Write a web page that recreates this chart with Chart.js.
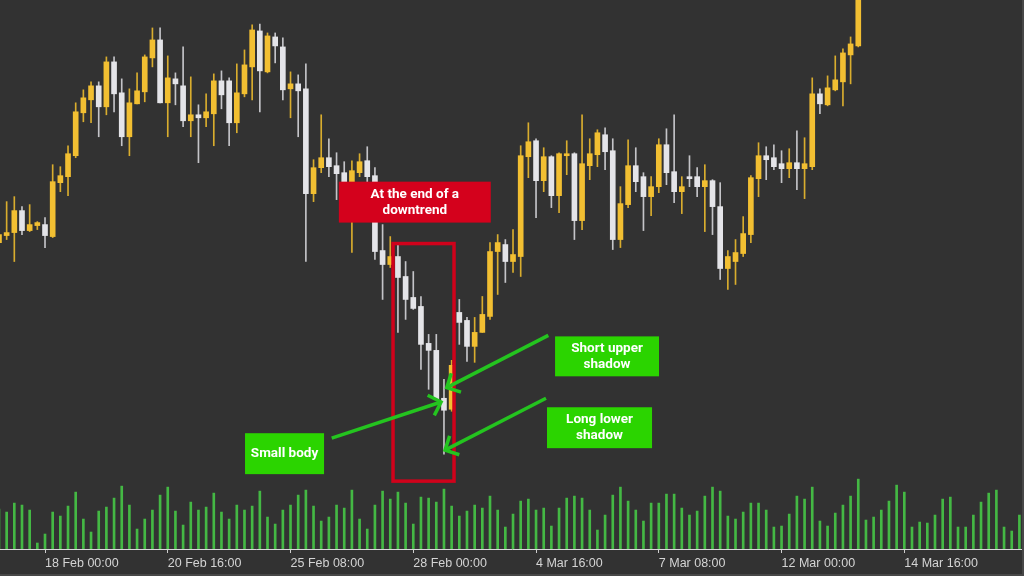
<!DOCTYPE html>
<html><head><meta charset="utf-8">
<script src="https://cdn.jsdelivr.net/npm/chart.js@4.4.1/dist/chart.umd.min.js"></script>
<style>html,body{margin:0;padding:0;background:#323232;overflow:hidden}canvas{display:block}</style>
</head><body>
<canvas id="c" width="1024" height="576"></canvas>
<script>
// ---- data (4H candles) ----
const openP  = [1.307,1.314,1.317,1.339,1.319,1.324,1.325,1.313,1.367,1.373,1.394,1.437,1.450,1.464,1.443,1.488,1.457,1.413,1.446,1.458,
1.492,1.510,1.447,1.471,1.464,1.429,1.435,1.432,1.436,1.469,1.469,1.427,1.456,1.483,1.519,1.478,1.513,1.503,1.461,1.466,
1.461,1.356,1.382,1.392,1.384,1.377,1.368,1.377,1.389,1.374,1.299,1.285,1.293,1.273,1.252,1.243,1.206,1.199,1.151,1.140,
1.237,1.229,1.203,1.217,1.233,1.298,1.305,1.288,1.293,1.393,1.409,1.369,1.393,1.354,1.394,1.396,1.329,1.384,1.395,1.415,
1.399,1.310,1.345,1.384,1.373,1.353,1.363,1.405,1.378,1.358,1.373,1.373,1.363,1.369,1.343,1.281,1.288,1.296,1.315,1.371,
1.394,1.392,1.386,1.381,1.387,1.381,1.383,1.456,1.445,1.460,1.468,1.495,1.504];
const highP  = [1.320,1.348,1.353,1.343,1.345,1.328,1.332,1.385,1.383,1.404,1.447,1.460,1.468,1.468,1.493,1.493,1.471,1.461,1.477,1.495,
1.522,1.522,1.494,1.477,1.503,1.473,1.445,1.456,1.476,1.479,1.472,1.486,1.500,1.525,1.526,1.517,1.517,1.512,1.478,1.475,
1.486,1.390,1.435,1.411,1.397,1.388,1.389,1.396,1.403,1.382,1.325,1.313,1.305,1.288,1.278,1.253,1.215,1.215,1.170,1.189,
1.250,1.232,1.232,1.253,1.307,1.315,1.310,1.320,1.404,1.427,1.411,1.402,1.394,1.397,1.409,1.397,1.435,1.411,1.420,1.422,
1.411,1.363,1.410,1.402,1.377,1.373,1.411,1.421,1.435,1.373,1.394,1.382,1.385,1.370,1.367,1.299,1.310,1.333,1.374,1.407,
1.403,1.405,1.399,1.401,1.419,1.412,1.472,1.461,1.474,1.494,1.501,1.513,1.580];
const lowP   = [1.303,1.310,1.288,1.315,1.318,1.320,1.302,1.312,1.358,1.354,1.392,1.428,1.427,1.413,1.435,1.438,1.404,1.394,1.446,1.448,
1.483,1.447,1.413,1.445,1.423,1.413,1.387,1.423,1.404,1.441,1.404,1.417,1.453,1.450,1.438,1.477,1.487,1.450,1.432,1.413,
1.288,1.348,1.377,1.373,1.350,1.365,1.297,1.373,1.368,1.290,1.250,1.282,1.217,1.230,1.240,1.180,1.160,1.150,1.095,1.138,
1.205,1.188,1.187,1.217,1.230,1.255,1.267,1.277,1.273,1.372,1.332,1.358,1.342,1.337,1.375,1.310,1.320,1.370,1.383,1.380,
1.300,1.302,1.342,1.358,1.319,1.334,1.357,1.365,1.347,1.336,1.363,1.353,1.318,1.315,1.270,1.260,1.265,1.293,1.307,1.353,
1.370,1.380,1.367,1.372,1.360,1.351,1.380,1.436,1.444,1.459,1.444,1.466,1.503];
const closeP = [1.315,1.317,1.339,1.319,1.325,1.327,1.314,1.368,1.374,1.396,1.438,1.452,1.464,1.443,1.488,1.456,1.413,1.447,1.459,1.493,
1.510,1.447,1.472,1.466,1.429,1.435,1.432,1.438,1.469,1.455,1.427,1.457,1.485,1.520,1.479,1.514,1.504,1.460,1.466,1.459,
1.356,1.382,1.392,1.383,1.376,1.368,1.379,1.388,1.373,1.298,1.285,1.293,1.272,1.250,1.241,1.205,1.199,1.150,1.139,1.184,
1.227,1.203,1.217,1.235,1.298,1.307,1.288,1.295,1.394,1.408,1.369,1.393,1.354,1.396,1.396,1.329,1.386,1.396,1.417,1.398,
1.310,1.346,1.384,1.368,1.353,1.363,1.405,1.377,1.358,1.363,1.371,1.363,1.369,1.343,1.281,1.293,1.297,1.316,1.372,1.394,
1.390,1.383,1.381,1.387,1.381,1.386,1.456,1.446,1.462,1.470,1.497,1.506,1.570];
const volumes = [40,37,46,44,39,6,15,37,33,43,57,30,17,38,42,51,63,44,20,30,
39,54,62,38,24,47,39,42,56,37,30,44,39,43,58,32,25,39,44,54,
59,43,28,32,44,41,59,30,20,44,58,50,57,46,25,52,51,47,60,43,
33,38,44,41,53,39,22,35,48,50,39,41,23,41,51,53,51,39,19,34,
54,62,48,39,28,46,46,55,55,41,34,38,53,62,58,33,30,37,46,46,
39,22,23,35,53,50,62,28,23,36,44,53,70,29,32,39,48,64,57,22,
27,26,34,50,52,22,22,34,47,56,59,22,18,34];
const tickIndex  = [6,22,38,54,70,86,102,118];
const tickLabels = ['18 Feb 00:00','20 Feb 16:00','25 Feb 08:00','28 Feb 00:00','4 Mar 16:00','7 Mar 08:00','12 Mar 00:00','14 Mar 16:00'];

// ---- annotations (data coordinates: candle index, price) ----
const labelBoxes = [
  {lines:['At the end of a','downtrend'], x0:44.3, x1:64.1, y0:1.368, y1:1.327, fill:'#d4011c'},
  {lines:['Short upper','shadow'], x0:72.48, x1:86.03, y0:1.213, y1:1.173, fill:'#2bd400'},
  {lines:['Long lower','shadow'], x0:71.43, x1:85.12, y0:1.142, y1:1.101, fill:'#2bd400'},
  {lines:['Small body'], x0:32.07, x1:42.37, y0:1.116, y1:1.075, fill:'#2bd400'}
];
const highlight = {x0:51.36, x1:59.31, y0:1.306, y1:1.068};
const arrows = [
  {from:[71.6,1.214], to:[58.36,1.1617]},
  {from:[71.3,1.151], to:[58.14,1.099]},
  {from:[43.37,1.111], to:[57.62,1.1473]}
];

const YELLOW='#f2bf32', WHITE='#e4e4e8', YW='#d9ad2e', WW='#c4c4c8';
const isUp = openP.map((o,i)=>closeP[i]>=o);

const overlay = {
  id:'overlay',
  beforeDraw(chart){
    const {ctx,width,height}=chart;
    ctx.save(); ctx.fillStyle='#323232'; ctx.fillRect(0,0,width,height); ctx.restore();
  },
  afterDatasetsDraw(chart){
    const {ctx, scales:{x,y}} = chart;
    const px=v=>x.getPixelForValue(v), py=v=>y.getPixelForValue(v);
    ctx.save();
    // highlight rectangle
    ctx.strokeStyle='#d0021b'; ctx.lineWidth=3.5; ctx.lineJoin='miter';
    ctx.strokeRect(px(highlight.x0), py(highlight.y0), px(highlight.x1)-px(highlight.x0), py(highlight.y1)-py(highlight.y0));
    // arrows
    ctx.strokeStyle='#24c41f'; ctx.lineWidth=3.5; ctx.lineCap='butt';
    arrows.forEach(a=>{
      const x1=px(a.from[0]), y1=py(a.from[1]), x2=px(a.to[0]), y2=py(a.to[1]);
      const ang=Math.atan2(y1-y2,x1-x2), L=15, s=Math.PI/4;
      ctx.beginPath(); ctx.moveTo(x1,y1); ctx.lineTo(x2,y2); ctx.stroke();
      ctx.beginPath();
      ctx.moveTo(x2+L*Math.cos(ang-s), y2+L*Math.sin(ang-s));
      ctx.lineTo(x2,y2);
      ctx.lineTo(x2+L*Math.cos(ang+s), y2+L*Math.sin(ang+s));
      ctx.stroke();
    });
    // label boxes
    labelBoxes.forEach(b=>{
      const l=px(b.x0), r=px(b.x1), t=py(b.y0), bt=py(b.y1);
      ctx.fillStyle=b.fill; ctx.fillRect(l,t,r-l,bt-t);
      ctx.fillStyle='#ffffff'; ctx.font="bold 13.5px Roboto, 'Liberation Sans', sans-serif";
      ctx.textAlign='center'; ctx.textBaseline='middle';
      const cx=(l+r)/2, cy=(t+bt)/2, n=b.lines.length, lh=16;
      b.lines.forEach((s,k)=>ctx.fillText(s, cx, cy+(k-(n-1)/2)*lh));
    });
    ctx.restore();
  },
  afterDraw(chart){
    const {ctx,width,height}=chart;
    ctx.save();
    ctx.fillStyle='#474747'; ctx.fillRect(0,height-2,width,2); ctx.fillRect(width-2,0,2,height);
    ctx.restore();
  }
};

new Chart(document.getElementById('c'), {
  type:'bar',
  data:{
    datasets:[
      {label:'body', data:openP.map((o,i)=>({x:i, y:[Math.min(o,closeP[i]), Math.max(o,closeP[i])]})),
       backgroundColor:isUp.map(u=>u?YELLOW:WHITE), barThickness:5, grouped:false, borderWidth:0, yAxisID:'y'},
      {label:'wick', data:highP.map((h,i)=>({x:i, y:[lowP[i], h]})),
       backgroundColor:isUp.map(u=>u?YW:WW), barThickness:1, grouped:false, borderWidth:0, yAxisID:'y'},
      {label:'volume', data:volumes.map((v,i)=>({x:i, y:v})),
       backgroundColor:'#44b844', barThickness:2, grouped:false, borderWidth:0, yAxisID:'yv'}
    ]
  },
  options:{
    responsive:false, animation:false, devicePixelRatio:1,
    layout:{padding:{left:0,right:0,top:0,bottom:2}},
    plugins:{legend:{display:false}, tooltip:{enabled:false}},
    scales:{
      x:{type:'linear', min:0.134, max:133.6, offset:false,
         grid:{offset:false, drawOnChartArea:false, drawTicks:true, tickLength:4, color:'#cfcfcf'},
         border:{display:true, color:'#d8d8d8', width:1},
         ticks:{autoSkip:false, maxRotation:0, align:'start', padding:3, color:'#d4d4d4',
                font:{family:"'Liberation Sans Narrow','Liberation Sans',sans-serif", size:12.5},
                callback:(v)=>{const k=tickIndex.indexOf(v); return k>=0?tickLabels[k]:'';}},
         afterBuildTicks:(s)=>{s.ticks=tickIndex.map(v=>({value:v}));}},
      y:{display:false, min:1.0, max:1.55},
      yv:{display:false, min:0, max:550, position:'right'}
    }
  },
  plugins:[overlay]
});
</script>
</body></html>
